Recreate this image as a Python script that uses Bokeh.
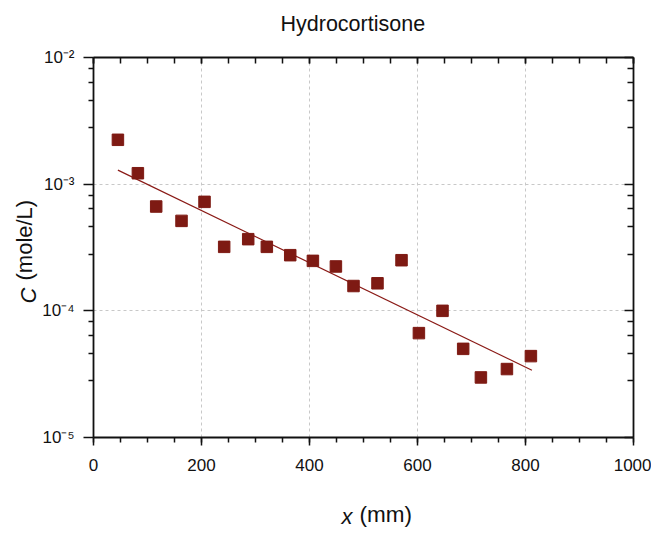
import math
from bokeh.plotting import figure
from bokeh.models import (LinearAxis, LogAxis, FixedTicker, CustomJSTickFormatter,
                          Label, Range1d, ColumnDataSource)
from bokeh.embed import file_html
from bokeh.resources import INLINE

# ---- data ----
x_mm = [45.2, 82.2, 116.1, 163.0, 205.6, 242.0, 286.5, 321.0, 364.3, 406.3,
        448.9, 481.5, 525.9, 570.4, 602.6, 646.3, 684.6, 717.4, 765.6, 810.0]
conc = [2.24e-3, 1.22e-3, 6.66e-4, 5.13e-4, 7.25e-4, 3.20e-4, 3.68e-4, 3.20e-4, 2.75e-4, 2.48e-4,
        2.24e-4, 1.57e-4, 1.65e-4, 2.51e-4, 6.67e-5, 1.00e-4, 5.01e-5, 2.98e-5, 3.47e-5, 4.39e-5]
fit_x = [45.2, 811.9]
fit_c = [1.29e-3, 3.40e-5]

x_major = [0, 200, 400, 600, 800, 1000]
x_minor = [50 * i for i in range(21)]
y_major = [1e-5, 1e-4, 1e-3, 1e-2]
y_minor_mult = [2.8, 4.6, 6.4, 8.2]
y_minor = [m * d for d in [1e-5, 1e-4, 1e-3] for m in y_minor_mult]

title_text = "Hydrocortisone"
FONT = "Liberation Sans"
RED = "#7e1a13"

p = figure(width=651, height=535, output_backend="svg", toolbar_location=None, title=None,
           x_range=Range1d(0, 1000), y_range=Range1d(1e-5, 1e-2), y_axis_type="log",
           min_border_left=93, min_border_right=18, min_border_top=57, min_border_bottom=98)
p.outline_line_color = None
p.background_fill_color = "white"
p.border_fill_color = "white"

xt = FixedTicker(ticks=x_major, minor_ticks=x_minor)
yt = FixedTicker(ticks=y_major, minor_ticks=y_minor)

sup_fmt = CustomJSTickFormatter(code="""
const e = Math.round(Math.log10(tick));
const sup = {"-":"\u207b","0":"\u2070","1":"\u00b9","2":"\u00b2","3":"\u00b3","4":"\u2074","5":"\u2075","6":"\u2076","7":"\u2077","8":"\u2078","9":"\u2079"};
return "10" + String(e).split("").map(c => sup[c]).join("");
""")
blank_fmt = CustomJSTickFormatter(code="return '';")

xa = p.xaxis[0]
xa.ticker = xt
xa.major_tick_out = 8
xa.major_tick_in = 0
xa.minor_tick_out = 5
xa.minor_tick_in = 0
xa.major_label_standoff = 13
xa.major_label_text_font = FONT
xa.major_label_text_font_size = "17px"
xa.major_label_text_color = "#111111"

ya = p.yaxis[0]
ya.ticker = yt
ya.formatter = sup_fmt
ya.major_tick_out = 10
ya.major_tick_in = 0
ya.minor_tick_out = 5
ya.minor_tick_in = 0
ya.major_label_standoff = 9
ya.major_label_text_font = FONT
ya.major_label_text_font_size = "17px"
ya.major_label_text_color = "#111111"

top = LinearAxis(ticker=FixedTicker(ticks=x_major, minor_ticks=x_minor), formatter=blank_fmt)
top.major_tick_in = 6
top.major_tick_out = 0
top.minor_tick_in = 6
top.minor_tick_out = 0
top.major_label_standoff = 0
p.add_layout(top, "above")

right = LogAxis(ticker=FixedTicker(ticks=y_major, minor_ticks=y_minor), formatter=blank_fmt)
right.major_tick_in = 9
right.major_tick_out = 0
right.minor_tick_in = 6
right.minor_tick_out = 0
right.major_label_standoff = 0
p.add_layout(right, "right")

for ax in [xa, ya, top, right]:
    ax.axis_line_width = 1.8
    ax.axis_line_color = "#111111"
    ax.major_tick_line_width = 1.5
    ax.minor_tick_line_width = 1.5
    ax.major_tick_line_color = "#111111"
    ax.minor_tick_line_color = "#111111"

p.xgrid.grid_line_color = "#c8c8c8"
p.xgrid.grid_line_dash = "3 3"
p.xgrid.grid_line_width = 1
p.ygrid.grid_line_color = "#c8c8c8"
p.ygrid.grid_line_dash = "3 3"
p.ygrid.grid_line_width = 1

src = ColumnDataSource(dict(x=x_mm, c=conc))
p.line(fit_x, fit_c, line_color="#8a1a16", line_width=1.2)
p.scatter("x", "c", source=src, marker="square", size=11.5,
          fill_color=RED, line_color=RED)

# title and axis labels (mixed italic) as labels placed in the side panels
p.add_layout(Label(x=187, y=34, x_units="screen", y_units="screen", text=title_text,
                   text_font=FONT, text_font_size="21.5px", text_color="#111111",
                   text_baseline="alphabetic", text_align="left"), "above")

p.add_layout(Label(x=248, y=-18, x_units="screen", y_units="screen", text="x",
                   text_font=FONT, text_font_size="22px", text_font_style="italic",
                   text_color="#111111", text_baseline="alphabetic", text_align="left"), "below")
p.add_layout(Label(x=266, y=9, x_units="screen", y_units="screen", text="(mm)",
                   text_font=FONT, text_font_size="22.5px",
                   text_color="#111111", text_baseline="alphabetic", text_align="left"), "below")

p.add_layout(Label(x=-65, y=-270, x_units="screen", y_units="screen", text="C",
                   text_font=FONT, text_font_size="22px", text_font_style="italic",
                   angle=math.pi / 2, text_color="#111111",
                   text_baseline="alphabetic", text_align="left"), "above")
p.add_layout(Label(x=10, y=157, x_units="screen", y_units="screen", text="(mole/L)",
                   text_font=FONT, text_font_size="22px", angle=math.pi / 2,
                   text_color="#111111", text_baseline="alphabetic", text_align="left"), "left")

open("out.html", "w").write(file_html(p, INLINE))
